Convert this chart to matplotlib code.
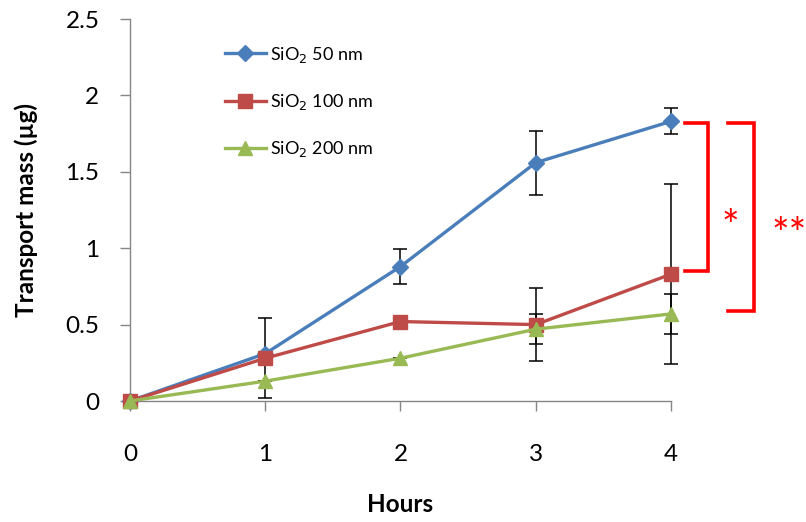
import matplotlib.pyplot as plt

plt.rcParams['font.family'] = ['Lato', 'DejaVu Sans']

hours = [0, 1, 2, 3, 4]
mass_50 = [0, 0.31, 0.88, 1.56, 1.83]
mass_100 = [0, 0.28, 0.52, 0.50, 0.83]
mass_200 = [0, 0.13, 0.28, 0.47, 0.57]
err_50 = [0, 0, 0.115, 0.21, 0.085]
err_100 = [0, 0.26, 0, 0.24, 0.59]
err_200 = [0, 0, 0, 0.10, 0.13]
labels = ['SiO$_2$ 50 nm', 'SiO$_2$ 100 nm', 'SiO$_2$ 200 nm']


def bracket(ax, x0, x1, y0, y1):
	ax.plot([x0, x1, x1, x0], [y0, y0, y1, y1], color='#FF0000', lw=2.6,
			clip_on=False, solid_joinstyle='miter')


fig = plt.figure(figsize=(8.06, 5.22), dpi=100)
ax = fig.add_axes([130/806, 1-401/522, 541/806, 382/522])

series = [
	(mass_50, err_50, '#4A7EBB', 'D', 8),
	(mass_100, err_100, '#BE4B48', 's', 9.5),
	(mass_200, err_200, '#98B954', '^', 10),
]
for (y, e, c, m, ms), lab in zip(series, labels):
	ax.errorbar(hours, y, yerr=e, fmt='none', ecolor='black', elinewidth=1.1,
				capsize=5, capthick=1.1, zorder=2, clip_on=False)
	ax.plot(hours, y, color=c, lw=2.4, marker=m, markersize=ms, label=lab,
			zorder=3, clip_on=False)

ax.set_xlim(0, 4)
ax.set_ylim(0, 2.5)
ax.set_xticks(hours)
ax.set_yticks([0, 0.5, 1, 1.5, 2, 2.5])
ax.set_yticklabels(['0', '0.5', '1', '1.5', '2', '2.5'])
ax.tick_params(labelsize=17.5, length=7, width=1, color='#868686')
ax.tick_params(axis='x', pad=24)
ax.tick_params(axis='y', pad=15)
for s in ['top', 'right']:
	ax.spines[s].set_visible(False)
for s in ['left', 'bottom']:
	ax.spines[s].set_color('#868686')
	ax.spines[s].set_linewidth(1)

ax.set_xlabel('Hours', fontsize=17.5, fontweight='bold', labelpad=20)
ax.set_ylabel('Transport mass (µg)', fontsize=17.5, fontweight='bold', labelpad=20)

ax.legend(loc='upper left', bbox_to_anchor=(0.145, 0.975), frameon=False,
		  fontsize=13, labelspacing=1.5, handlelength=2.3, handletextpad=0.2)

# significance brackets
bracket(ax, 4.10, 4.27, 1.82, 0.85)
bracket(ax, 4.42, 4.61, 1.82, 0.59)
ax.text(4.44, 1.13, '*', color='#FF0000', fontsize=30, ha='center', va='center',
		clip_on=False)
ax.text(4.74, 1.08, '**', color='#FF0000', fontsize=30, ha='left', va='center',
		clip_on=False)

fig.savefig('out.png', dpi=100)
